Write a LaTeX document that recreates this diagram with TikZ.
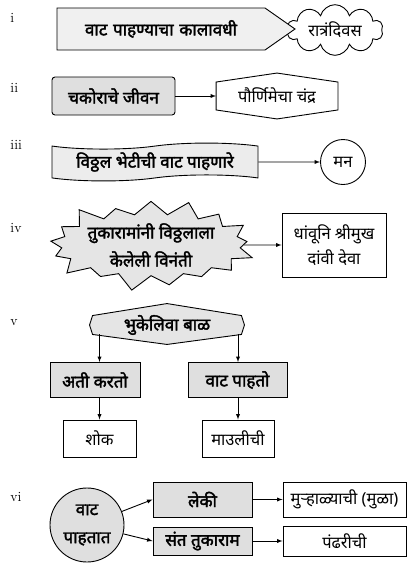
\documentclass[tikz,border=0pt]{standalone}
\usepackage{fontspec}
\newfontfamily\mr[Script=Devanagari]{Noto Sans}
\newfontfamily\mrb[Script=Devanagari, FakeBold=2.2]{Noto Sans}
\usetikzlibrary{shapes.symbols,shapes.geometric,arrows,calc}

\begin{document}
\begin{tikzpicture}[x=1pt, y=-1pt, line width=0.9pt]
\tikzstyle{vertexw}=[rectangle, draw, inner sep=1pt, font=\mr\fontsize{16.5}{25}\selectfont]
\tikzstyle{vertexg}=[rectangle, draw, fill=gray!25, inner sep=1pt, font=\mrb\fontsize{17}{20}\selectfont]
\tikzstyle{plain}=[inner sep=1pt, font=\mr\fontsize{16.5}{18}\selectfont]
\tikzstyle{num}=[anchor=west, inner sep=0pt, font=\fontsize{14}{16}\selectfont]
\tikzstyle{drawstyle}=[->, >=latex]

\useasboundingbox (0,0) rectangle (409,574);

% i
\node[num] (N1) at (10,18) {i};
\node[cloud, draw, cloud puffs=10, aspect=2.2, minimum width=96pt, minimum height=46pt, inner sep=0pt, font=\mr\fontsize{16.5}{18}\selectfont] (G1x1) at (335,30) {रात्रंदिवस};
\node[signal, signal to=east, signal pointer angle=70, draw, fill=gray!12, inner xsep=4pt, text width=200pt, align=center, minimum height=42pt, font=\mrb\fontsize{17}{20}\selectfont] (G1x0) at (161,29) {वाट पाहण्याचा कालावधी};

% ii
\node[num] (N2) at (10,88) {ii};
\node[vertexg, rounded corners=3pt, minimum width=123pt, minimum height=38pt] (G2x0) at (113.5,96) {चकोराचे जीवन};
\node[plain, minimum width=121pt, minimum height=27pt] (G2x1) at (277,96) {पौर्णिमेचा चंद्र};
\draw (G2x1.north west) -- ($(G2x1.north)+(0,-9)$) -- (G2x1.north east) -- (G2x1.south east) -- ($(G2x1.south)+(0,9)$) -- (G2x1.south west) -- cycle;
\draw[drawstyle] (G2x0) -- (G2x1);

% iii
\node[num] (N3) at (10,145) {iii};
\node[tape, draw, fill=gray!15, tape bend top=in and out, tape bend bottom=in and out, tape bend height=6pt, minimum width=206pt, minimum height=34pt, font=\mrb\fontsize{17}{20}\selectfont] (G3x0) at (155,162) {विठ्ठल भेटीची वाट पाहणारे};
\node[circle, draw, minimum size=45pt, inner sep=0pt, font=\mr\fontsize{16.5}{18}\selectfont] (G3x1) at (343,162) {मन};
\draw[drawstyle] (G3x0) -- (G3x1);

% iv
\node[num] (N4) at (10,228) {iv};
\node[starburst, draw, fill=gray!20, starburst points=17, starburst point height=18pt, minimum width=198pt, minimum height=78pt, inner sep=0pt, align=center, font=\mrb\fontsize{17}{28}\selectfont] (G4x0) at (151,245) {तुकारामांनी विठ्ठलाला\\केलेली विनंती};
\node[vertexw, minimum width=104pt, minimum height=64pt, align=center] (G4x1) at (334,245) {धांवूनि श्रीमुख\\दांवी देवा};
\draw[drawstyle] (G4x0.east) -- (G4x1.west);

% v
\node[num] (N5) at (10,323) {v};
\node[inner sep=2pt, minimum width=148pt, minimum height=18pt] (G5x0) at (167,325) {};
\node[vertexg, minimum width=90pt, minimum height=35pt] (G5x1) at (95,380) {अती करतो};
\node[vertexg, minimum width=99pt, minimum height=35pt] (G5x2) at (237.5,380) {वाट पाहतो};
\node[vertexw, minimum width=73pt, minimum height=37pt] (G5x3) at (99.5,438.5) {शोक};
\node[vertexw, minimum width=72pt, minimum height=37pt] (G5x4) at (238,438.5) {माउलीची};
\draw[fill=gray!20] ($(G5x0.west)+(-3,0)$) -- (G5x0.north west) -- ($(G5x0.north)+(0,-12)$) -- (G5x0.north east) -- ($(G5x0.east)+(3,0)$) -- (G5x0.south east) -- ($(G5x0.south)+(0,10)$) -- (G5x0.south west) -- cycle;
\node[inner sep=2pt, font=\mrb\fontsize{17}{20}\selectfont] (G5x5) at (G5x0) {भुकेलिवा बाळ};
\draw[drawstyle] (G5x3.north |- G5x0.south) -- (G5x1.north -| G5x3.north);
\draw[drawstyle] (G5x4.north |- G5x0.south) -- (G5x2.north -| G5x4.north);
\draw[drawstyle] (G5x3.north |- G5x1.south) -- (G5x3.north);
\draw[drawstyle] (G5x4.north |- G5x2.south) -- (G5x4.north);

% vi
\node[num] (N6) at (10,497) {vi};
\node[circle, draw, fill=gray!25, minimum size=74pt, inner sep=0pt, align=center, font=\mrb\fontsize{17}{28}\selectfont] (G6x0) at (87,525) {वाट\\पाहतात};
\node[vertexg, minimum width=99pt, minimum height=35pt] (G6x1) at (202.5,499.5) {लेकी};
\node[vertexg, minimum width=99pt, minimum height=28pt] (G6x2) at (202.5,541) {संत तुकाराम};
\node[vertexw, minimum width=123pt, minimum height=35pt] (G6x3) at (344.5,499.5) {मुऱ्हाळ्याची (मुळा)};
\node[vertexw, minimum width=123pt, minimum height=30pt] (G6x4) at (344.5,541) {पंढरीची};
\draw[drawstyle] (G6x0) -- (G6x1.west);
\draw[drawstyle] (G6x0) -- (G6x2.west);
\draw[drawstyle] (G6x1) -- (G6x3);
\draw[drawstyle] (G6x2) -- (G6x4);
\end{tikzpicture}
\end{document}
